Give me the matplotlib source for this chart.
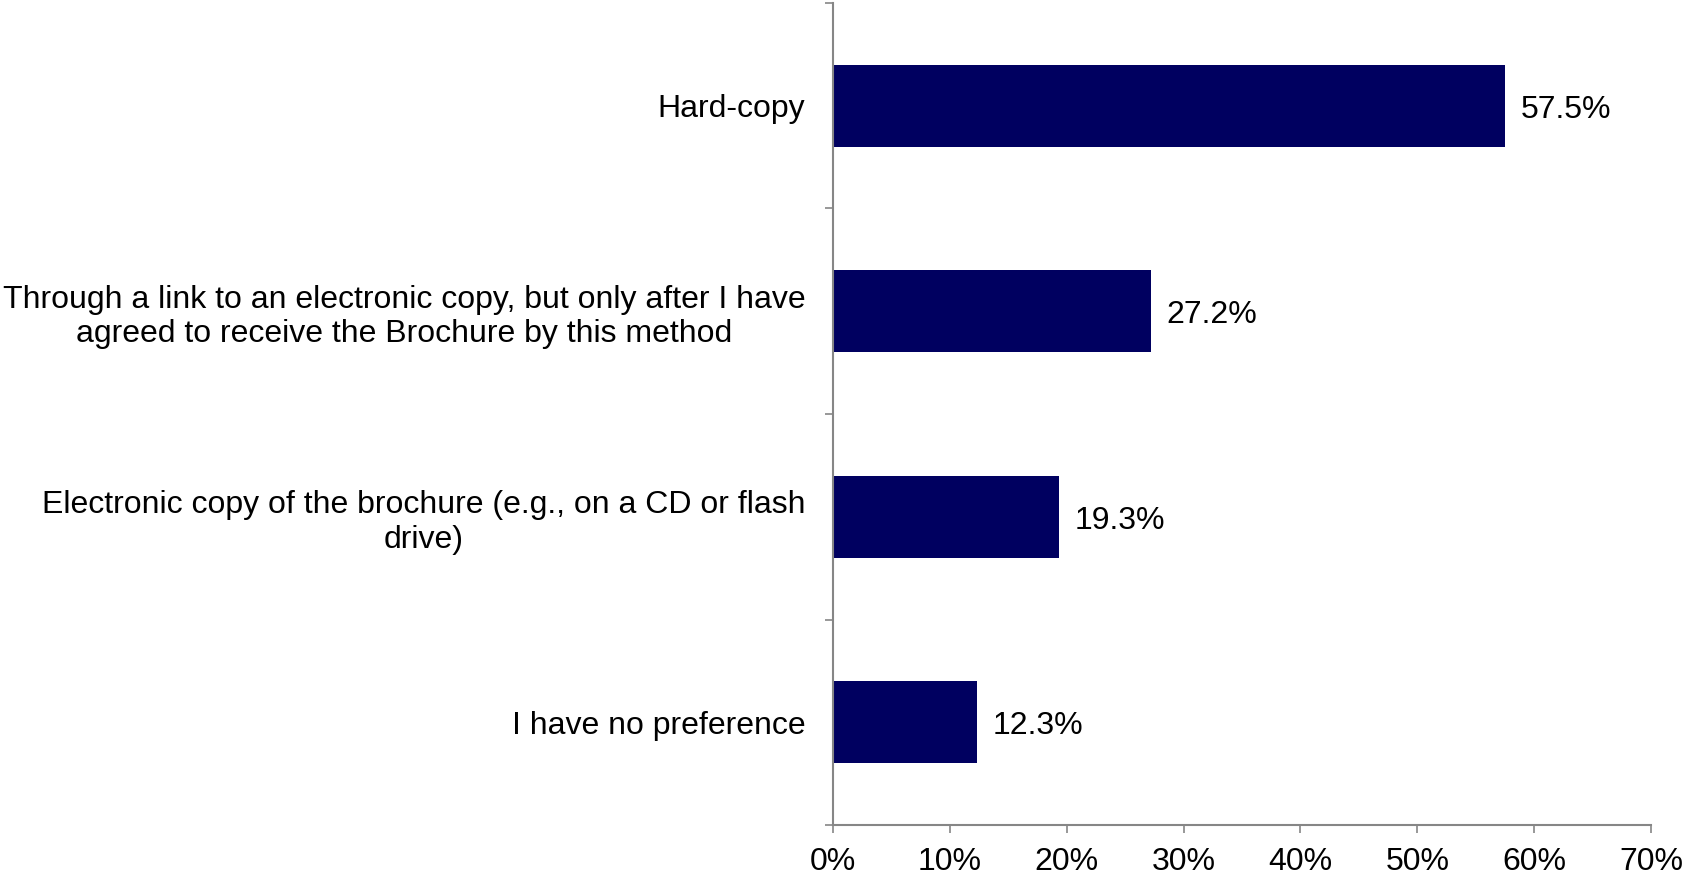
import numpy as np
import matplotlib
matplotlib.use("Agg")
import matplotlib.pyplot as plt
from matplotlib.ticker import FixedLocator, PercentFormatter

plt.rcParams['font.family'] = ['Liberation Sans', 'DejaVu Sans']

categories = [
    "Hard-copy",
    "Through a link to an electronic copy, but only after I have\nagreed to receive the Brochure by this method",
    "Electronic copy of the brochure (e.g., on a CD or flash\ndrive)",
    "I have no preference",
]
values = [57.5, 27.2, 19.3, 12.3]
value_labels = ["57.5%", "27.2%", "19.3%", "12.3%"]
x_ticks = [0, 10, 20, 30, 40, 50, 60, 70]

fig = plt.figure(figsize=(16.84, 8.76), dpi=100)
ax = fig.add_axes([0.4947, 0.0582, 0.9804 - 0.4947, 0.9966 - 0.0582])

pos = np.arange(len(categories))
ax.barh(pos, values, height=0.4, color="#000060")

for p, v, lab in zip(pos, values, value_labels):
    ax.annotate(lab, (v, p), xytext=(11.5, -3), textcoords="offset points",
                va="center", ha="left", fontsize=23, color="black")

ax.set_xlim(0, 70)
ax.set_ylim(len(categories) - 0.5, -0.5)

ax.set_xticks(x_ticks)
ax.xaxis.set_major_formatter(PercentFormatter(decimals=0))

# category boundaries carry the tick marks, centres carry the labels
ax.yaxis.set_major_locator(FixedLocator(np.arange(len(categories) + 1) - 0.5))
ax.yaxis.set_major_formatter(plt.NullFormatter())
ax.yaxis.set_minor_locator(FixedLocator(pos))
ax.set_yticklabels(categories, minor=True, multialignment="center", linespacing=1.2)

ax.tick_params(axis="y", which="major", length=6, width=1.2, color="#868686")
ax.tick_params(axis="y", which="minor", length=0, pad=20, labelsize=23)
ax.tick_params(axis="x", length=6, width=1.2, color="#868686", pad=10, labelsize=23)

for s in ["top", "right"]:
    ax.spines[s].set_visible(False)
for s in ["left", "bottom"]:
    ax.spines[s].set_color("#868686")
    ax.spines[s].set_linewidth(1.5)

fig.savefig("out.png", dpi=100)
